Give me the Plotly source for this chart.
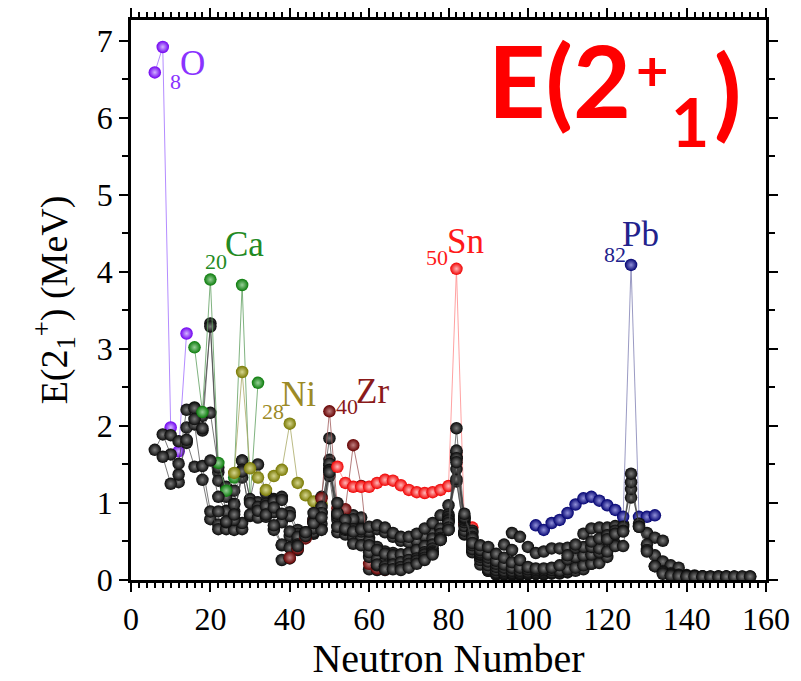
import plotly.graph_objects as go

# ---------------- data: neutron number N and E(2+1) in MeV per isotopic chain ----------------
N_O = [6, 8, 10, 12, 14]
E_O = [6.59, 6.92, 1.98, 1.67, 3.20]

N_Ne = [6, 8, 10, 12, 14, 16, 18, 20, 22]
E_Ne = [1.69, 1.89, 1.63, 1.27, 1.98, 2.02, 1.30, 0.79, 0.72]

N_Mg = [8, 10, 12, 14, 16, 18, 20, 22, 24, 26, 28]
E_Mg = [1.60, 1.25, 1.37, 1.81, 1.47, 1.48, 0.89, 0.66, 0.66, 0.65, 0.66]

N_Si = [10, 12, 14, 16, 18, 20, 22, 24, 26, 28]
E_Si = [1.88, 1.80, 1.78, 2.24, 1.94, 3.33, 1.40, 1.08, 0.99, 0.74]

N_S = [12, 14, 16, 18, 20, 22, 24, 26, 28]
E_S = [1.51, 2.21, 2.23, 2.13, 3.29, 1.29, 0.90, 0.89, 1.33]

N_Ar = [14, 16, 18, 20, 22, 24, 26, 28, 30]
E_Ar = [1.82, 2.09, 1.97, 2.17, 1.46, 1.21, 1.16, 1.55, 1.04]

N_Ca = [16, 18, 20, 22, 24, 26, 28, 30, 32]
E_Ca = [3.02, 2.18, 3.90, 1.52, 1.16, 1.33, 3.83, 1.03, 2.56]

N_Ti = [20, 22, 24, 26, 28, 30, 32, 34, 36]
E_Ti = [1.55, 1.08, 0.89, 0.98, 1.55, 1.05, 1.50, 1.13, 1.05]

N_Cr = [22, 24, 26, 28, 30, 32, 34, 36, 38, 40]
E_Cr = [0.89, 0.75, 0.78, 1.43, 0.83, 1.01, 0.88, 0.65, 0.45, 0.42]

N_Fe = [24, 26, 28, 30, 32, 34, 36, 38, 40, 42]
E_Fe = [0.76, 0.85, 1.41, 0.85, 0.81, 0.82, 0.88, 0.75, 0.57, 0.52]

N_Ni = [26, 28, 30, 32, 34, 36, 38, 40, 42, 44, 46, 48]
E_Ni = [1.39, 2.70, 1.45, 1.33, 1.17, 1.35, 1.43, 2.03, 1.26, 1.10, 1.02, 0.99]

N_Zn = [30, 32, 34, 36, 38, 40, 42, 44, 46, 48, 50]
E_Zn = [1.00, 0.95, 0.99, 1.04, 1.08, 0.88, 0.65, 0.61, 0.60, 0.73, 1.49]

N_Ge = [32, 34, 36, 38, 40, 42, 44, 46, 48, 50, 52]
E_Ge = [0.90, 0.96, 1.02, 1.04, 0.83, 0.60, 0.56, 0.62, 0.66, 1.35, 0.62]

N_Se = [34, 36, 38, 40, 42, 44, 46, 48, 50, 52, 54]
E_Se = [0.85, 0.94, 0.86, 0.63, 0.56, 0.61, 0.67, 0.65, 1.45, 0.70, 0.59]

N_Kr = [36, 38, 40, 42, 44, 46, 48, 50, 52, 54, 56, 58, 60]
E_Kr = [0.71, 0.46, 0.42, 0.46, 0.62, 0.78, 0.88, 1.56, 0.78, 0.71, 0.77, 0.67, 0.55]

N_Sr = [38, 40, 42, 44, 46, 48, 50, 52, 54, 56, 58, 60, 62, 64]
E_Sr = [0.26, 0.28, 0.39, 0.57, 0.79, 1.08, 1.84, 0.83, 0.81, 0.84, 0.81, 0.14, 0.13, 0.13]

N_Zr = [40, 42, 44, 46, 48, 50, 52, 54, 56, 58, 60, 62, 64, 66, 68, 70]
E_Zr = [0.29, 0.41, 0.54, 0.75, 1.06, 2.19, 0.93, 0.92, 1.75, 1.22, 0.21, 0.15, 0.14, 0.15, 0.17, 0.19]

N_Mo = [42, 44, 46, 48, 50, 52, 54, 56, 58, 60, 62, 64, 66, 68, 70]
E_Mo = [0.44, 0.57, 0.74, 0.95, 1.51, 0.87, 0.78, 0.79, 0.54, 0.30, 0.19, 0.17, 0.19, 0.21, 0.24]

N_Ru = [44, 46, 48, 50, 52, 54, 56, 58, 60, 62, 64, 66, 68, 70, 72]
E_Ru = [0.62, 0.74, 0.87, 1.43, 0.83, 0.65, 0.54, 0.48, 0.36, 0.27, 0.24, 0.24, 0.24, 0.27, 0.27]

N_Pd = [46, 48, 50, 52, 54, 56, 58, 60, 62, 64, 66, 68, 70, 72, 74, 76]
E_Pd = [0.87, 0.81, 1.42, 0.86, 0.67, 0.56, 0.56, 0.51, 0.43, 0.37, 0.35, 0.33, 0.34, 0.38, 0.44, 0.50]

N_Cd = [50, 52, 54, 56, 58, 60, 62, 64, 66, 68, 70, 72, 74, 76, 78, 80]
E_Cd = [1.40, 1.00, 0.78, 0.66, 0.63, 0.63, 0.66, 0.62, 0.56, 0.51, 0.49, 0.51, 0.57, 0.61, 0.65, 0.65]

N_Sn = [52, 54, 56, 58, 60, 62, 64, 66, 68, 70, 72, 74, 76, 78, 80, 82, 84, 86]
E_Sn = [1.47, 1.26, 1.21, 1.21, 1.21, 1.26, 1.30, 1.29, 1.23, 1.17, 1.14, 1.13, 1.14, 1.17, 1.22, 4.04, 0.73, 0.68]

N_Te = [52, 54, 56, 58, 60, 62, 64, 66, 68, 70, 72, 74, 76, 78, 80, 82, 84, 86]
E_Te = [0.69, 0.67, 0.63, 0.66, 0.69, 0.71, 0.68, 0.61, 0.56, 0.56, 0.60, 0.67, 0.74, 0.84, 0.97, 1.28, 0.61, 0.44]

N_Xe = [56, 58, 60, 62, 64, 66, 68, 70, 72, 74, 76, 78, 80, 82, 84, 86, 88, 90]
E_Xe = [0.47, 0.45, 0.45, 0.39, 0.34, 0.32, 0.33, 0.35, 0.39, 0.44, 0.54, 0.67, 0.85, 1.31, 0.59, 0.38, 0.29, 0.25]

N_Ba = [62, 64, 66, 68, 70, 72, 74, 76, 78, 80, 82, 84, 86, 88, 90, 92]
E_Ba = [0.20, 0.18, 0.20, 0.23, 0.26, 0.28, 0.36, 0.46, 0.60, 0.82, 1.44, 0.60, 0.36, 0.20, 0.18, 0.14]

N_Ce = [64, 66, 68, 70, 72, 74, 76, 78, 80, 82, 84, 86, 88, 90, 92]
E_Ce = [0.14, 0.14, 0.17, 0.21, 0.25, 0.33, 0.41, 0.55, 0.79, 1.60, 0.64, 0.40, 0.26, 0.16, 0.10]

N_Nd = [68, 70, 72, 74, 76, 78, 80, 82, 84, 86, 88, 90, 92, 94]
E_Nd = [0.13, 0.16, 0.21, 0.29, 0.37, 0.52, 0.77, 1.58, 0.70, 0.45, 0.30, 0.13, 0.07, 0.07]

N_Sm = [74, 76, 78, 80, 82, 84, 86, 88, 90, 92, 94, 96]
E_Sm = [0.26, 0.35, 0.53, 0.77, 1.66, 0.75, 0.55, 0.33, 0.12, 0.08, 0.08, 0.07]

N_Gd = [76, 78, 80, 82, 84, 86, 88, 90, 92, 94, 96, 98]
E_Gd = [0.33, 0.52, 0.74, 1.97, 0.78, 0.64, 0.34, 0.12, 0.09, 0.08, 0.075, 0.07]

N_Dy = [80, 82, 84, 86, 88, 90, 92, 94, 96, 98, 100]
E_Dy = [0.68, 1.68, 0.80, 0.61, 0.33, 0.14, 0.10, 0.087, 0.081, 0.073, 0.077]

N_Er = [80, 82, 84, 86, 88, 90, 92, 94, 96, 98, 100, 102, 104]
E_Er = [0.65, 1.58, 0.81, 0.56, 0.34, 0.19, 0.13, 0.10, 0.091, 0.081, 0.080, 0.079, 0.077]

N_Yb = [82, 84, 86, 88, 90, 92, 94, 96, 98, 100, 102, 104, 106, 108]
E_Yb = [1.53, 0.82, 0.54, 0.36, 0.24, 0.17, 0.12, 0.10, 0.088, 0.084, 0.079, 0.076, 0.082, 0.084]

N_Hf = [84, 86, 88, 90, 92, 94, 96, 98, 100, 102, 104, 106, 108, 110]
E_Hf = [0.86, 0.48, 0.39, 0.29, 0.21, 0.16, 0.12, 0.10, 0.095, 0.091, 0.088, 0.093, 0.093, 0.098]

N_W = [88, 90, 92, 94, 96, 98, 100, 102, 104, 106, 108, 110, 112, 114, 116]
E_W = [0.45, 0.33, 0.25, 0.20, 0.16, 0.12, 0.11, 0.11, 0.11, 0.10, 0.10, 0.11, 0.12, 0.14, 0.21]

N_Os = [90, 92, 94, 96, 98, 100, 102, 104, 106, 108, 110, 112, 114, 116, 118, 120]
E_Os = [0.43, 0.34, 0.29, 0.23, 0.16, 0.14, 0.13, 0.13, 0.13, 0.12, 0.14, 0.16, 0.19, 0.21, 0.22, 0.30]

N_Pt = [94, 96, 98, 100, 102, 104, 106, 108, 110, 112, 114, 116, 118, 120, 122, 124]
E_Pt = [0.46, 0.39, 0.26, 0.17, 0.15, 0.15, 0.16, 0.19, 0.27, 0.30, 0.32, 0.33, 0.36, 0.41, 0.47, 0.72]

N_Hg = [96, 98, 100, 102, 104, 106, 108, 110, 112, 114, 116, 118, 120, 122, 124, 126]
E_Hg = [0.61, 0.56, 0.43, 0.35, 0.37, 0.41, 0.41, 0.42, 0.42, 0.43, 0.43, 0.41, 0.37, 0.44, 0.44, 1.07]

N_Pb = [102, 104, 106, 108, 110, 112, 114, 116, 118, 120, 122, 124, 126, 128, 130, 132]
E_Pb = [0.71, 0.65, 0.74, 0.78, 0.87, 0.98, 1.06, 1.08, 1.03, 0.97, 0.91, 0.82, 4.09, 0.82, 0.82, 0.84]

N_Po = [110, 112, 114, 116, 118, 120, 122, 124, 126, 128, 130, 132, 134]
E_Po = [0.32, 0.46, 0.60, 0.67, 0.68, 0.68, 0.70, 0.69, 1.18, 0.73, 0.61, 0.55, 0.51]

N_Rn = [116, 118, 120, 122, 124, 126, 128, 130, 132, 134, 136, 138]
E_Rn = [0.50, 0.54, 0.58, 0.64, 0.64, 1.27, 0.69, 0.46, 0.32, 0.24, 0.19, 0.16]

N_Ra = [120, 122, 124, 126, 128, 130, 132, 134, 136, 138, 140, 142]
E_Ra = [0.53, 0.60, 0.63, 1.38, 0.69, 0.39, 0.18, 0.11, 0.084, 0.068, 0.064, 0.060]

N_Th = [130, 132, 134, 136, 138, 140, 142, 144]
E_Th = [0.37, 0.18, 0.098, 0.072, 0.058, 0.053, 0.049, 0.050]

N_U = [134, 136, 138, 140, 142, 144, 146, 148]
E_U = [0.081, 0.059, 0.052, 0.048, 0.043, 0.045, 0.045, 0.045]

N_Pu = [140, 142, 144, 146, 148, 150]
E_Pu = [0.047, 0.045, 0.044, 0.043, 0.045, 0.046]

N_Cm = [144, 146, 148, 150, 152]
E_Cm = [0.043, 0.043, 0.043, 0.043, 0.043]

N_Cf = [150, 152, 154, 156]
E_Cf = [0.043, 0.041, 0.043, 0.045]

N_Fm = [150, 152, 154, 156]
E_Fm = [0.044, 0.044, 0.045, 0.046]

X_TICKS = [0, 20, 40, 60, 80, 100, 120, 140, 160]
Y_TICKS = [0, 1, 2, 3, 4, 5, 6, 7]

# ---------------- styles ----------------
BLACK = dict(color="#080808", center="#7c7c7c", line="#404040", lw=0.7)
ST_O = dict(color="#7000f0", center="#d2b4ff", line="#b48cff", lw=1.0)
ST_Ca = dict(color="#087a08", center="#98d098", line="#5f9f5f", lw=0.8)
ST_Ni = dict(color="#777700", center="#d6d690", line="#aaaa66", lw=0.8)
ST_Zr = dict(color="#640000", center="#c08080", line="#a05a5a", lw=0.8)
ST_Sn = dict(color="#f00000", center="#ffb8b8", line="#ff8a8a", lw=0.8)
ST_Pb = dict(color="#000070", center="#9090d8", line="#8080b4", lw=0.8)

chains = [
    (N_O, E_O, ST_O), (N_Ne, E_Ne, BLACK), (N_Mg, E_Mg, BLACK), (N_Si, E_Si, BLACK),
    (N_S, E_S, BLACK), (N_Ar, E_Ar, BLACK), (N_Ca, E_Ca, ST_Ca), (N_Ti, E_Ti, BLACK),
    (N_Cr, E_Cr, BLACK), (N_Fe, E_Fe, BLACK), (N_Ni, E_Ni, ST_Ni), (N_Zn, E_Zn, BLACK),
    (N_Ge, E_Ge, BLACK), (N_Se, E_Se, BLACK), (N_Kr, E_Kr, BLACK), (N_Sr, E_Sr, BLACK),
    (N_Zr, E_Zr, ST_Zr), (N_Mo, E_Mo, BLACK), (N_Ru, E_Ru, BLACK), (N_Pd, E_Pd, BLACK),
    (N_Cd, E_Cd, BLACK), (N_Sn, E_Sn, ST_Sn), (N_Te, E_Te, BLACK), (N_Xe, E_Xe, BLACK),
    (N_Ba, E_Ba, BLACK), (N_Ce, E_Ce, BLACK), (N_Nd, E_Nd, BLACK), (N_Sm, E_Sm, BLACK),
    (N_Gd, E_Gd, BLACK), (N_Dy, E_Dy, BLACK), (N_Er, E_Er, BLACK), (N_Yb, E_Yb, BLACK),
    (N_Hf, E_Hf, BLACK), (N_W, E_W, BLACK), (N_Os, E_Os, BLACK), (N_Pt, E_Pt, BLACK),
    (N_Hg, E_Hg, BLACK), (N_Pb, E_Pb, ST_Pb), (N_Po, E_Po, BLACK), (N_Rn, E_Rn, BLACK),
    (N_Ra, E_Ra, BLACK), (N_Th, E_Th, BLACK), (N_U, E_U, BLACK), (N_Pu, E_Pu, BLACK),
    (N_Cm, E_Cm, BLACK), (N_Cf, E_Cf, BLACK), (N_Fm, E_Fm, BLACK),
]

fig = go.Figure()
for xs, ys, st in chains:
    fig.add_trace(go.Scatter(
        x=xs, y=ys, mode="lines+markers",
        line=dict(color=st["line"], width=st["lw"]),
        marker=dict(size=12.5, color=st["color"],
                    gradient=dict(type="radial", color=st["center"]),
                    line=dict(width=0)),
        showlegend=False, hoverinfo="skip"))

SERIF = "Liberation Serif, Times New Roman, serif"

# element labels: (prescript, symbol, colour, prescript pos, symbol pos)
labels = [
    ("8", "O", "#8a33ff", (11.2, 6.47), (15.4, 6.70)),
    ("20", "Ca", "#238a23", (21.5, 4.14), (28.5, 4.35)),
    ("28", "Ni", "#9c8a26", (35.9, 2.19), (42.2, 2.41)),
    ("40", "Zr", "#8a1a1a", (54.5, 2.25), (60.8, 2.45)),
    ("50", "Sn", "#ff1a1a", (77.2, 4.19), (84.3, 4.40)),
    ("82", "Pb", "#22228c", (121.9, 4.23), (128.5, 4.48)),
]
for pre, sym, col, p1, p2 in labels:
    fig.add_annotation(x=p1[0], y=p1[1], xref="x", yref="y", text=pre, showarrow=False,
                       font=dict(family=SERIF, size=22, color=col), xanchor="center", yanchor="middle")
    fig.add_annotation(x=p2[0], y=p2[1], xref="x", yref="y", text=sym, showarrow=False,
                       font=dict(family=SERIF, size=35, color=col), xanchor="center", yanchor="middle")

# big red title E(2+1)
BIG = "Lato, Open Sans, sans-serif"
RED = "#ff0000"
fig.add_annotation(x=0.559, y=0.894, xref="paper", yref="paper", text="<b>E(2</b>", showarrow=False,
                   font=dict(family=BIG, size=100, color=RED), xanchor="left", yanchor="middle")
fig.add_annotation(x=0.8205, y=0.912, xref="paper", yref="paper", text="<b>+</b>", showarrow=False,
                   font=dict(family=BIG, size=56, color=RED), xanchor="center", yanchor="middle")
fig.add_annotation(x=0.8803, y=0.818, xref="paper", yref="paper", text="<b>1</b>", showarrow=False,
                   font=dict(family=BIG, size=66, color=RED), xanchor="center", yanchor="middle")
fig.add_annotation(x=0.9386, y=0.876, xref="paper", yref="paper", text="<b>)</b>", showarrow=False,
                   font=dict(family=BIG, size=100, color=RED), xanchor="center", yanchor="middle")

axis_common = dict(
    showline=True, linewidth=2.5, linecolor="black", mirror="allticks",
    ticks="outside", ticklen=9, tickwidth=2, tickcolor="black",
    showgrid=False, zeroline=False,
    tickfont=dict(family=SERIF, size=32, color="black"),
)
fig.update_xaxes(range=[0, 160], tickmode="array", tickvals=X_TICKS,
                 ticktext=[str(v) for v in X_TICKS],
                 minor=dict(dtick=2, tick0=0, ticklen=5, tickwidth=1.5, ticks="outside", tickcolor="black"),
                 title=dict(text="Neutron Number", font=dict(family=SERIF, size=40, color="black"), standoff=14),
                 **axis_common)
fig.update_yaxes(range=[0, 7.27], tickmode="array", tickvals=Y_TICKS,
                 ticktext=[str(v) for v in Y_TICKS],
                 minor=dict(dtick=0.5, tick0=0, ticklen=6, tickwidth=1.5, ticks="outside", tickcolor="black"),
                 title=dict(text="E(2<sub>1</sub><sup>+</sup>) (MeV)", font=dict(family=SERIF, size=38, color="black"), standoff=18),
                 **axis_common)

fig.update_layout(
    width=801, height=681,
    margin=dict(l=131, r=35, t=20, b=101, autoexpand=False),
    paper_bgcolor="white", plot_bgcolor="white",
    showlegend=False,
)

fig.write_html("out.html")
